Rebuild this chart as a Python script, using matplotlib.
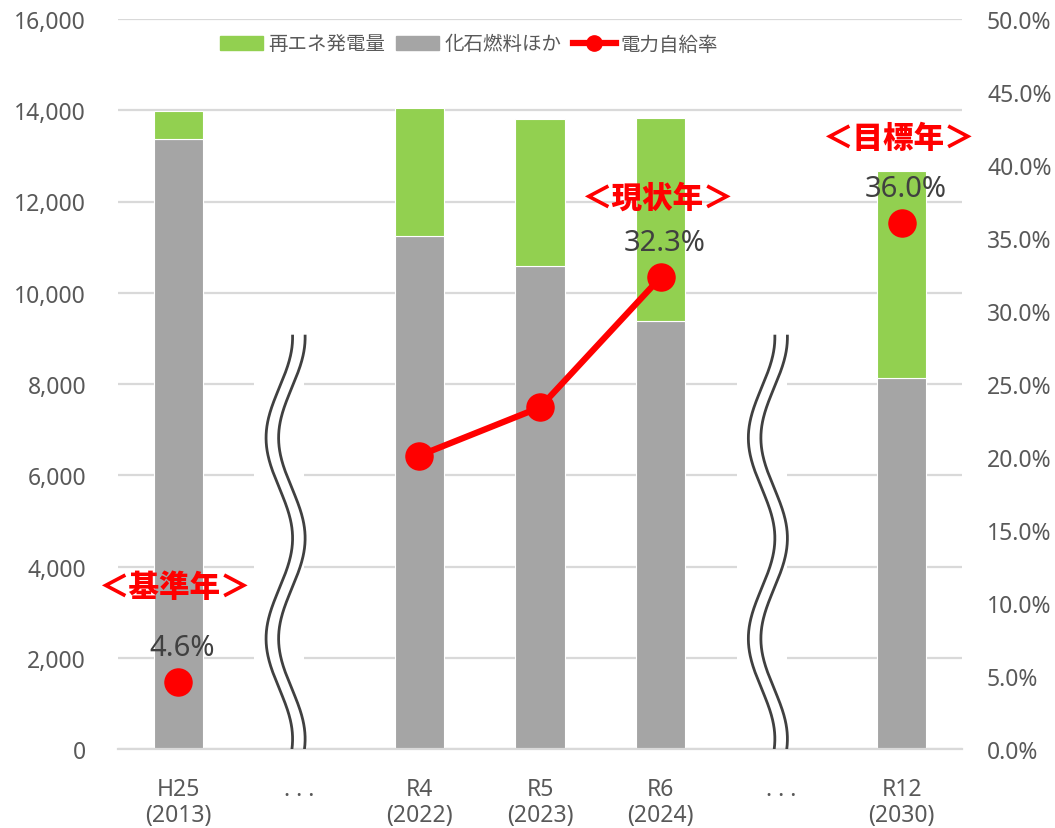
import numpy as np
import matplotlib
matplotlib.use("Agg")
import matplotlib.pyplot as plt
from matplotlib.patches import Patch
from matplotlib.lines import Line2D

plt.rcParams["font.family"] = ["Noto Sans", "Noto Sans CJK JP", "DejaVu Sans"]

categories = ["H25\n(2013)", ". . .", "R4\n(2022)", "R5\n(2023)", "R6\n(2024)", ". . .", "R12\n(2030)"]
fossil = [13370, np.nan, 11250, 10590, 9375, np.nan, 8125]
renew = [610, np.nan, 2795, 3215, 4450, np.nan, 4550]
self_rate = [4.6, np.nan, 20.1, 23.4, 32.3, np.nan, 36.0]
rate_labels = {0: "4.6%", 4: "32.3%", 6: "36.0%"}
marks = {0: "＜基準年＞", 4: "＜現状年＞", 6: "＜目標年＞"}
break_cats = [1, 5]

# vertical offset (points) of the red year marks above their dots
mark_dy = {0: 69, 4: 58, 6: 62}

GREEN = "#92D050"
GRAY = "#A5A5A5"
RED = "#FF0000"
TXT = "#595959"
GRID = "#D9D9D9"

fig = plt.figure(figsize=(10.55, 8.29), dpi=100)
ax = fig.add_axes([118 / 1055, 79 / 829, 844 / 1055, 730 / 829])
ax2 = ax.twinx()

x = np.arange(len(categories))
bw = 0.41
ax.bar(x, fossil, bw, color=GRAY, edgecolor="white", linewidth=0.8, zorder=2)
ax.bar(x, renew, bw, bottom=fossil, color=GREEN, edgecolor="white", linewidth=0.8, zorder=2)

ax.set_xlim(-0.5, len(categories) - 0.5)
ax.set_ylim(0, 16000)
ax.set_yticks(np.arange(0, 16001, 2000))
ax.set_yticklabels([f"{v:,}" for v in range(0, 16001, 2000)])
ax.yaxis.grid(True, color=GRID, linewidth=1.6, zorder=0)
ax.set_axisbelow(True)
ax.set_xticks(x)
ax.set_xticklabels(categories, linespacing=1.15)
ax.tick_params(axis="y", length=0, pad=23, labelsize=16.5, labelcolor=TXT)
ax.tick_params(axis="x", length=0, pad=20, labelsize=16.5, labelcolor=TXT)
for s in ["top", "right", "left"]:
    ax.spines[s].set_visible(False)
ax.spines["bottom"].set_color(GRID)
ax.spines["bottom"].set_linewidth(1.6)

# wavy break marks
yy = np.linspace(0, 9050, 400)
for c in break_cats:
    xc = c - 0.11 + 0.11 * np.cos(2 * np.pi * (yy - 220) / 4400)
    ax.fill_betweenx(yy[yy > 120], c - 0.37, c + 0.045, color="white", zorder=1.5, linewidth=0)
    ax.plot(xc - 0.052, yy, color="#404040", lw=2.0, zorder=3)
    ax.plot(xc + 0.052, yy, color="#404040", lw=2.0, zorder=3)

ax2.plot(x, np.array(self_rate) / 100, color=RED, lw=4.5, marker="o", ms=19.5, zorder=4)
ax2.set_ylim(0, 0.5)
ax2.set_yticks(np.arange(0, 0.501, 0.05))
ax2.set_yticklabels([f"{v:.1f}%" for v in np.arange(0, 50.01, 5)])
ax2.tick_params(axis="y", length=0, pad=18, labelsize=16.5, labelcolor=TXT)
for s in ["top", "right", "left", "bottom"]:
    ax2.spines[s].set_visible(False)

for i, lab in rate_labels.items():
    ax2.annotate(lab, (i, self_rate[i] / 100), xytext=(3, 25), textcoords="offset points",
                 ha="center", va="center", fontsize=21, color="#404040", zorder=5)
for i, lab in marks.items():
    ax2.annotate(lab, (i, self_rate[i] / 100), xytext=(-2, mark_dy[i]), textcoords="offset points",
                 ha="center", va="center", fontsize=22, color=RED, fontweight="heavy",
                 family=["Noto Sans CJK JP", "DejaVu Sans"], zorder=5)

handles = [Patch(color=GREEN), Patch(color=GRAY),
           Line2D([], [], color=RED, lw=4.5, marker="o", ms=11)]
fig.legend(handles, ["再エネ発電量", "化石燃料ほか", "電力自給率"], loc="center",
           bbox_to_anchor=(469 / 1055, 1 - 45 / 829), ncol=3, frameon=False,
           prop={"family": ["Noto Sans CJK JP"], "size": 14}, labelcolor=TXT,
           handlelength=2.2, handleheight=0.7, handletextpad=0.25, columnspacing=0.6)

fig.savefig("out.png", dpi=100)
